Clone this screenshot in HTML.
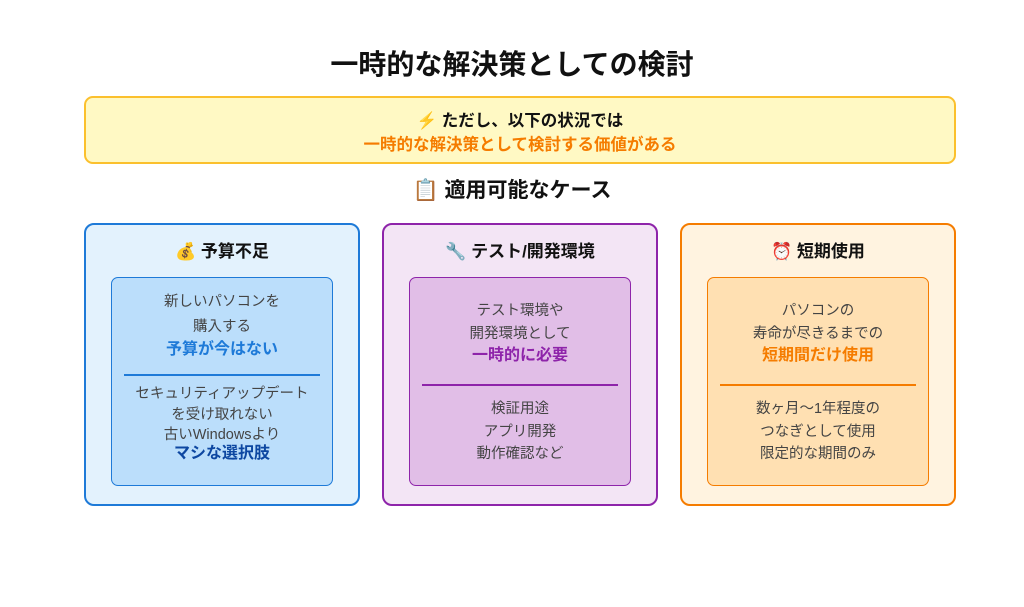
<!DOCTYPE html>
<html><head><meta charset="utf-8"><style>
*{margin:0;padding:0;box-sizing:border-box}
body{width:1024px;height:607px;background:#fff;position:relative;overflow:hidden;font-family:"Liberation Sans","Noto Sans CJK JP",sans-serif;color:#222}
.a{position:absolute}
.t{position:absolute;left:0;width:100%;text-align:center;white-space:nowrap}
.card{position:absolute;top:223px;width:276px;height:283px;border:2px solid;border-radius:10px}
.inner{position:absolute;left:25px;top:52px;width:222px;height:209px;border:1.5px solid;border-radius:7px}
.hd{position:absolute;top:12px;left:0;width:100%;text-align:center;font-size:17px;font-weight:bold;color:#111}
.l{position:absolute;left:0;width:100%;text-align:center;font-size:14.5px;color:#444;line-height:20px;white-space:nowrap}
.b{font-weight:bold;font-size:16px}
.hr{position:absolute;left:12px;right:12px;height:1.5px}
</style></head><body>
<div class="t" style="top:43px;font-size:28px;font-weight:bold;color:#111">一時的な解決策としての検討</div>
<div class="a" style="left:84px;top:96px;width:872px;height:68px;background:#fff9c4;border:2.5px solid #fbc02d;border-radius:9px">
<div class="t" style="top:9px;font-size:16.5px;font-weight:bold;color:#111"><span style="color:#f4793b">⚡</span> ただし、以下の状況では</div>
<div class="t" style="top:33px;font-size:16.5px;font-weight:bold;color:#f57c00">一時的な解決策として検討する価値がある</div>
</div>
<div class="t" style="top:174px;font-size:21px;font-weight:bold;color:#111">📋 適用可能なケース</div>

<div class="card" style="left:84px;background:#e3f2fd;border-color:#1e7ad8">
<div class="hd">💰 予算不足</div>
<div class="inner" style="background:#bbdefb;border-color:#1e7ad8">
<div class="l" style="top:14px">新しいパソコンを</div>
<div class="l" style="top:39px">購入する</div>
<div class="l b" style="top:62px;color:#1e7ad8">予算が今はない</div>
<div class="hr" style="top:96px;background:#1e7ad8"></div>
<div class="l" style="top:106px">セキュリティアップデート</div>
<div class="l" style="top:127px">を受け取れない</div>
<div class="l" style="top:147px">古いWindowsより</div>
<div class="l b" style="top:166px;color:#0d47a1">マシな選択肢</div>
</div></div>

<div class="card" style="left:382px;background:#f3e5f5;border-color:#8e24aa">
<div class="hd"><span style="color:#999">🔧</span> テスト/開発環境</div>
<div class="inner" style="background:#e1bee7;border-color:#8e24aa">
<div class="l" style="top:23px">テスト環境や</div>
<div class="l" style="top:46px">開発環境として</div>
<div class="l b" style="top:68px;color:#8e24aa">一時的に必要</div>
<div class="hr" style="top:106px;background:#8e24aa"></div>
<div class="l" style="top:121px">検証用途</div>
<div class="l" style="top:144px">アプリ開発</div>
<div class="l" style="top:166px">動作確認など</div>
</div></div>

<div class="card" style="left:680px;background:#fff3e0;border-color:#f57c00">
<div class="hd">⏰ 短期使用</div>
<div class="inner" style="background:#ffe0b2;border-color:#f57c00">
<div class="l" style="top:23px">パソコンの</div>
<div class="l" style="top:46px">寿命が尽きるまでの</div>
<div class="l b" style="top:68px;color:#f57c00">短期間だけ使用</div>
<div class="hr" style="top:106px;background:#f57c00"></div>
<div class="l" style="top:121px">数ヶ月〜1年程度の</div>
<div class="l" style="top:144px">つなぎとして使用</div>
<div class="l" style="top:166px">限定的な期間のみ</div>
</div></div>
</body></html>
